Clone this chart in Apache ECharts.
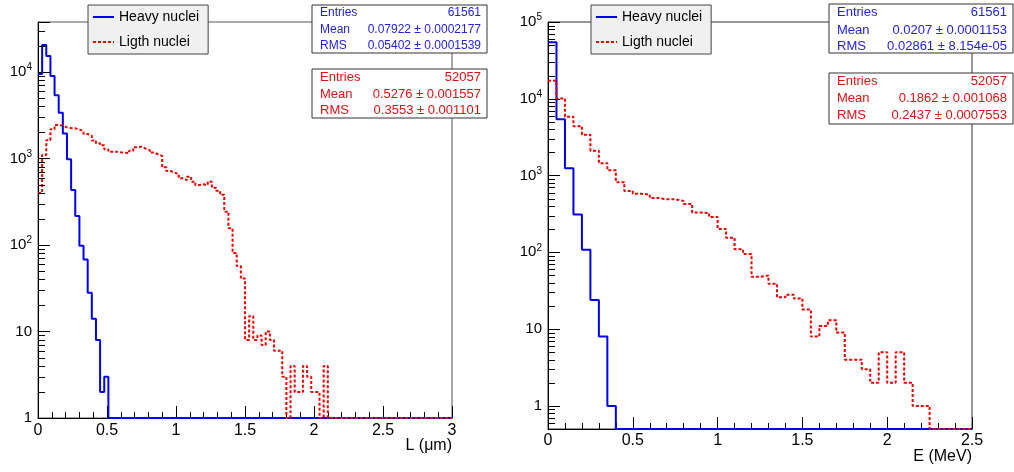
<!DOCTYPE html>
<html><head><meta charset="utf-8">
<script src="https://cdn.jsdelivr.net/npm/echarts@6/dist/echarts.min.js"></script>
<style>html,body{margin:0;padding:0;background:#fff}#c{width:1014px;height:472px}</style>
</head><body><div id="c"></div>
<script>
// ---- data (bin contents) ----
const seriesNames = ['Heavy nuclei', 'Ligth nuclei'];
const leftBinWidth = 0.03;   // L (um), 100 bins from 0 to 3
const rightBinWidth = 0.05;  // E (MeV), 50 bins from 0 to 2.5

const leftHeavy = [9500,20500,15300,9000,5400,3390,1950,980,432,216,
  98,68,28,14,8,2,3,0,0,0,
  0,0,0,0,0,0,0,0,0,0, 0,0,0,0,0,0,0,0,0,0,
  0,0,0,0,0,0,0,0,0,0, 0,0,0,0,0,0,0,0,0,0,
  0,0,0,0,0,0,0,0,0,0, 0,0,0,0,0,0,0,0,0,0,
  0,0,0,0,0,0,0,0,0,0, 0,0,0,0,0,0,0,0,0,0];
const leftLight = [400,1100,1630,2180,2440,2400,2290,2250,2230,2170,
  2060,1920,1830,1610,1500,1420,1280,1200,1200,1180,
  1170,1150,1230,1350,1370,1300,1250,1170,1120,1070,
  790,717,685,662,590,563,617,540,494,503,
  494,540,460,425,380,243,156,81,57,41,
  8,15,8,9,7,10,8,6,6,3,
  0,4,2,2,4,3,2,2,0,4,
  0,0,0,0,0,0,0,0,0,0, 0,0,0,0,0,0,0,0,0,0, 0,0,0,0,0,0,0,0,0,0];
const rightHeavy = [54400,5400,1245,310,108,24,8,1,0,0,
  0,0,0,0,0,0,0,0,0,0, 0,0,0,0,0,0,0,0,0,0,
  0,0,0,0,0,0,0,0,0,0, 0,0,0,0,0,0,0,0,0,0];
const rightLight = [17200,10100,5850,4400,3400,2110,1450,1170,820,630,
  580,565,510,490,493,465,426,329,325,288,
  202,155,110,95,48,50,39,26,28,25,
  18,8,11,13,9,4,4,3,2,5,
  2,5,2,1,1,0,0,0,0,0];

// stat boxes text
const leftHeavyStats = [['Entries','61561'],['Mean','0.07922 ± 0.0002177'],['RMS','0.05402 ± 0.0001539']];
const leftLightStats = [['Entries','52057'],['Mean','0.5276 ± 0.001557'],['RMS','0.3553 ± 0.001101']];
const rightHeavyStats = [['Entries','61561'],['Mean','0.0207 ± 0.0001153'],['RMS','0.02861 ± 8.154e-05']];
const rightLightStats = [['Entries','52057'],['Mean','0.1862 ± 0.001068'],['RMS','0.2437 ± 0.0007553']];

const xTitles = ['L (μm)', 'E (MeV)'];
const decadeMultipliers = [2,3,4,5,6,7,8,9];
const leftDecades = [1,10,100,1000,10000];
const rightDecades = [0.1,1,10,100,1000,10000];

// ---- styling ----
const FONT = '"Liberation Sans", Arial, Helvetica, sans-serif';
const BLUE = '#0000ee';
const RED = '#ee0000';
const leftYMin = 1, leftYMax = Math.pow(10, 4.578);
const rightYMin = 0.5, rightYMax = 1e5;

function steps(vals, w, floor) {
  const pts = vals.map((v, i) => [+(i * w).toFixed(4), v > 0 ? v : floor]);
  const last = vals[vals.length - 1];
  pts.push([+(vals.length * w).toFixed(4), last > 0 ? last : floor]);
  return pts;
}
function minorTicks(decades, lo, hi) {
  const out = [];
  decades.forEach(d => decadeMultipliers.forEach(m => { const v = d * m; if (v > lo && v < hi) out.push(v); }));
  return out;
}
function yTickRender(len) {
  return function (params, api) {
    const p = api.coord([api.value(0), api.value(1)]);
    const y = Math.round(p[1]) + 0.5;
    return { type: 'line', shape: { x1: p[0], y1: y, x2: p[0] + len, y2: y }, style: { stroke: '#000', lineWidth: 1 } };
  };
}
function logLabel(v) {
  const e = Math.log10(v), r = Math.round(e);
  if (Math.abs(e - r) > 1e-6) return '';
  if (r === 0) return '1';
  if (r === 1) return '10';
  return '10{sup|' + r + '}';
}
function xAxis(gi, max, margin) {
  return {
    type: 'value', gridIndex: gi, min: 0, max: max, interval: 0.5,
    axisLine: { show: true, onZero: false, lineStyle: { color: '#000', width: 1 } },
    axisTick: { show: true, inside: true, length: 12, lineStyle: { color: '#000' } },
    minorTick: { show: true, splitNumber: 5, length: 6, lineStyle: { color: '#000' } },
    splitLine: { show: false },
    axisLabel: { fontSize: 16, fontFamily: FONT, color: '#000', margin: margin, showMinLabel: true, showMaxLabel: true }
  };
}
function yAxis(gi, min, max) {
  return {
    type: 'log', logBase: 10, gridIndex: gi, min: min, max: max,
    axisLine: { show: true, lineStyle: { color: '#000', width: 1 } },
    axisTick: { show: true, inside: true, length: 12, lineStyle: { color: '#000' } },
    splitLine: { show: false },
    axisLabel: {
      fontSize: 15, fontFamily: FONT, color: '#000', margin: 6,
      formatter: logLabel,
      rich: { sup: { fontSize: 10, fontFamily: FONT, color: '#000', padding: [0, 0, 9, 0] } }
    }
  };
}
function statBox(x, y, w, h, rows, rowYs, color, size) {
  const children = [{ type: 'rect', shape: { x: x, y: y, width: w, height: h }, style: { fill: '#fff', stroke: '#333', lineWidth: 1 } }];
  rows.forEach((r, i) => {
    children.push({ type: 'text', style: { text: r[0], x: x + 8, y: rowYs[i], align: 'left', verticalAlign: 'middle', font: size + 'px ' + FONT, fill: color } });
    children.push({ type: 'text', style: { text: r[1], x: x + w - 6, y: rowYs[i], align: 'right', verticalAlign: 'middle', font: size + 'px ' + FONT, fill: color } });
  });
  return { type: 'group', z: 100, children: children };
}
function legend(left) {
  return {
    left: left, top: 5, orient: 'vertical', data: seriesNames, selectedMode: false,
    backgroundColor: '#f0f0f0', borderColor: '#444', borderWidth: 1, borderRadius: 0,
    padding: [5, 9, 5, 4], itemGap: 11, itemWidth: 21, itemHeight: 14,
    itemStyle: { opacity: 0 },
    textStyle: { fontSize: 14, fontFamily: FONT, color: '#000' }, z: 50
  };
}
function histSeries(name, gi, data, color, dashed) {
  return {
    type: 'line', name: name, xAxisIndex: gi, yAxisIndex: gi, data: data, step: 'end',
    symbol: 'none', showSymbol: false,
    lineStyle: { color: color, width: 2, type: dashed ? [3, 2] : 'solid' },
    itemStyle: { color: color }, z: dashed ? 4 : 3
  };
}

const chart = echarts.init(document.getElementById('c'), null, { renderer: 'canvas' });
chart.setOption({
  animation: false,
  backgroundColor: '#fff',
  grid: [
    { left: 38, top: 22, width: 414, height: 396, show: true, borderColor: '#555', borderWidth: 1, backgroundColor: 'transparent' },
    { left: 548, top: 22, width: 424, height: 407, show: true, borderColor: '#333', borderWidth: 1, backgroundColor: 'transparent' }
  ],
  xAxis: [xAxis(0, 3, 5), xAxis(1, 2.5, 4)],
  yAxis: [yAxis(0, leftYMin, leftYMax), yAxis(1, rightYMin, rightYMax)],
  legend: [legend(88), legend(591)],
  series: [
    histSeries(seriesNames[0], 0, steps(leftHeavy, leftBinWidth, leftYMin), BLUE, false),
    histSeries(seriesNames[1], 0, steps(leftLight, leftBinWidth, leftYMin), RED, true),
    histSeries(seriesNames[0], 1, steps(rightHeavy, rightBinWidth, rightYMin), BLUE, false),
    histSeries(seriesNames[1], 1, steps(rightLight, rightBinWidth, rightYMin), RED, true),
    { type: 'custom', xAxisIndex: 0, yAxisIndex: 0, silent: true, z: 5, clip: false,
      data: minorTicks(leftDecades, leftYMin, leftYMax).map(v => [0, v]), renderItem: yTickRender(7) },
    { type: 'custom', xAxisIndex: 1, yAxisIndex: 1, silent: true, z: 5, clip: false,
      data: minorTicks(rightDecades, rightYMin, rightYMax).map(v => [0, v]), renderItem: yTickRender(7) }
  ],
  graphic: [
    statBox(312, 5, 175, 48, leftHeavyStats, [13, 30, 46], '#2222dd', 12),
    statBox(312, 69, 175, 49, leftLightStats, [77, 94, 110], '#dd1111', 13),
    statBox(829, 4, 184, 49, rightHeavyStats, [12.5, 30, 46.5], '#2222dd', 13),
    statBox(829, 73, 184, 51, rightLightStats, [81, 98, 115], '#dd1111', 13),
    { type: 'text', z: 100, style: { text: xTitles[0], x: 452, y: 446, align: 'right', verticalAlign: 'middle', font: '16px ' + FONT, fill: '#000' } },
    { type: 'text', z: 100, style: { text: xTitles[1], x: 972, y: 457, align: 'right', verticalAlign: 'middle', font: '16px ' + FONT, fill: '#000' } }
  ]
});
</script></body></html>
